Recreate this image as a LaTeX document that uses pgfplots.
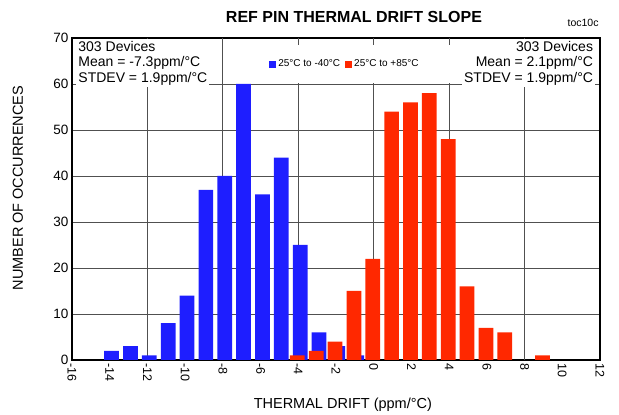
\documentclass[border=0pt]{standalone}
\usepackage{fontspec}
\setmainfont{Liberation Sans}
\usepackage{pgfplots}
\pgfplotsset{compat=1.18}
\definecolor{barblue}{RGB}{30,30,255}
\definecolor{barred}{RGB}{255,40,0}
\definecolor{gridgray}{RGB}{80,80,80}

\begin{document}
\begin{tikzpicture}
\begin{axis}[
    name=ax,
    scale only axis, width=528pt, height=322pt,
    xmin=-16, xmax=12, ymin=0, ymax=70,
    xtick={-16,-14,...,12}, ytick={0,10,...,70},
    major tick length=0pt,
    extra x ticks={-12,-8,-4,0,4,8}, extra x tick labels={},
    extra x tick style={grid=major},
    ymajorgrids,
    grid style={gridgray, line width=0.8pt},
    axis line style={black, line width=1.6pt},
    /pgf/number format/assume math mode=true,
    xticklabel style={rotate=-90, anchor=west, font=\fontsize{12.5}{12.5}\selectfont},
    yticklabel style={font=\fontsize{13.5}{13.5}\selectfont},
    legend style={at={(0.517,0.919)}, anchor=center, draw=none, fill=white,
        inner xsep=38pt, inner ysep=13pt, font=\fontsize{10}{11}\selectfont,
        /tikz/every even column/.append style={column sep=3pt}},
    legend columns=2,
    clip=false
]
    % 25C to -40C
    \addplot[ybar, fill=barblue, draw=none, bar width=0.78, bar shift=0.1,
        legend image code/.code={\fill[barblue] (0pt,-3.5pt) rectangle (7pt,3.5pt);}]
        coordinates {
        (-14,2) (-13,3) (-12,1) (-11,8) (-10,14) (-9,37) (-8,40)
        (-7,60) (-6,36) (-5,44) (-4,25) (-3,6) (-2,3) (-1,1)
    };
    \addlegendentry{25°C to -40°C}
    % 25C to +85C
    \addplot[ybar, fill=barred, draw=none, bar width=0.78, bar shift=-0.05,
        legend image code/.code={\fill[barred] (0pt,-3.5pt) rectangle (7pt,3.5pt);}]
        coordinates {
        (-4,1) (-3,2) (-2,4) (-1,15) (0,22) (1,54) (2,56) (3,58)
        (4,48) (5,16) (6,7) (7,6) (9,1)
    };
    \addlegendentry{25°C to +85°C}

    \node[yshift=-1pt, anchor=north west, fill=white, inner sep=2pt, align=left,
        font=\fontsize{14}{15.5}\selectfont] at (rel axis cs:0.008,1)
        {303 Devices\\Mean = -7.3ppm/°C\\STDEV = 1.9ppm/°C};
    \node[yshift=-1pt, anchor=north east, fill=white, inner sep=2pt, align=right,
        font=\fontsize{14}{15.5}\selectfont] at (rel axis cs:0.991,1)
        {303 Devices\\Mean = 2.1ppm/°C\\STDEV = 1.9ppm/°C};

    \node[yshift=21.5pt, font=\bfseries\fontsize{16}{16}\selectfont]
        at (rel axis cs:0.534,1) {REF PIN THERMAL DRIFT SLOPE};
    \node[yshift=8pt, anchor=south east, font=\fontsize{10.5}{10.5}\selectfont]
        at (rel axis cs:1.004,1) {toc10c};
    \node[xshift=-54pt, rotate=90, font=\fontsize{14.5}{14.5}\selectfont]
        at (rel axis cs:0,0.534) {NUMBER OF OCCURRENCES};
    \node[yshift=-45pt, font=\fontsize{14.5}{14.5}\selectfont]
        at (rel axis cs:0.513,0) {THERMAL DRIFT (ppm/°C)};
\end{axis}
\pgfresetboundingbox
\path ([shift={(-72pt,-55pt)}]ax.south west) rectangle ([shift={(19pt,38pt)}]ax.north east);
\end{tikzpicture}
\end{document}
